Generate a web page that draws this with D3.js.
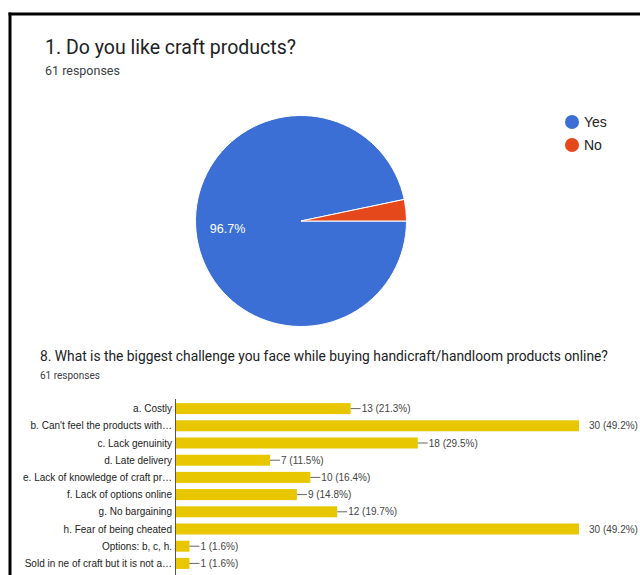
<!DOCTYPE html>
<html><head><meta charset="utf-8">
<script src="https://cdn.jsdelivr.net/npm/d3@7"></script>
<style>html,body{margin:0;padding:0;background:#fff;}svg{display:block;}</style>
</head><body>
<svg id="c" width="640" height="575"></svg>
<script>
const pieLabels = ["Yes", "No"];
const pieValues = [59, 2];
const pieColors = ["#3b6fd6", "#e4481b"];

const barCategories = ["a. Costly", "b. Can't feel the products with\u2026", "c. Lack genuinity", "d. Late delivery",
  "e. Lack of knowledge of craft pr\u2026", "f. Lack of options online", "g. No bargaining", "h. Fear of being cheated",
  "Options: b, c, h.", "Sold in ne of craft but it is not a\u2026"];
const barValues = [13, 30, 18, 7, 10, 9, 12, 30, 1, 1];
const barPercents = ["21.3%", "49.2%", "29.5%", "11.5%", "16.4%", "14.8%", "19.7%", "49.2%", "1.6%", "1.6%"];

const svg = d3.select("#c");

// frame
svg.append("rect").attr("x", 0).attr("y", 0).attr("width", 640).attr("height", 575).attr("fill", "#fff");
svg.append("line").attr("x1", 10).attr("x2", 10).attr("y1", 12.5).attr("y2", 575).attr("stroke", "#000").attr("stroke-width", 3);
svg.append("line").attr("x1", 8.5).attr("x2", 640).attr("y1", 14).attr("y2", 14).attr("stroke", "#000").attr("stroke-width", 3);

// Titles
svg.append("text").attr("x", 45).attr("y", 54).attr("font-family", "Roboto").attr("font-size", 19.5)
  .attr("fill", "#202124").text("1. Do you like craft products?");
svg.append("text").attr("x", 45).attr("y", 75).attr("font-family", "Roboto").attr("font-size", 12.5)
  .attr("fill", "#3c4043").text("61 responses");

// Pie
const cx = 301, cy = 221, r = 105.5;
const pie = d3.pie().sort(null).startAngle(Math.PI / 2).endAngle(Math.PI / 2 + 2 * Math.PI);
const arcs = pie(pieValues);
const arc = d3.arc().innerRadius(0).outerRadius(r);
const pg = svg.append("g").attr("transform", `translate(${cx},${cy})`);
pg.selectAll("path").data(arcs).join("path")
  .attr("d", arc).attr("fill", (d, i) => pieColors[i]).attr("stroke", "#fff").attr("stroke-width", 1);
const total = d3.sum(pieValues);
const labelArc = d3.arc().innerRadius(r * 0.7).outerRadius(r * 0.7);
pg.selectAll("text.pl").data(arcs.filter(d => d.value / total > 0.05)).join("text")
  .attr("class", "pl")
  .attr("transform", d => `translate(${labelArc.centroid(d)})`)
  .attr("text-anchor", "middle").attr("dy", "0.35em")
  .attr("font-family", "Liberation Sans, Arial").attr("font-size", 12.5).attr("fill", "#fff")
  .text(d => (d.value / total * 100).toFixed(1) + "%");

// Legend
const lg = svg.append("g");
pieLabels.forEach((l, i) => {
  const y = 122 + i * 23;
  lg.append("circle").attr("cx", 572).attr("cy", y).attr("r", 7).attr("fill", pieColors[i]);
  lg.append("text").attr("x", 584).attr("y", y).attr("dy", "0.36em").attr("font-family", "Liberation Sans, Arial")
    .attr("font-size", 14).attr("fill", "#222").text(l);
});

// Bar chart titles
svg.append("text").attr("x", 40).attr("y", 361).attr("font-family", "Roboto").attr("font-size", 13.8)
  .attr("fill", "#202124").text("8. What is the biggest challenge you face while buying handicraft/handloom products online?");
svg.append("text").attr("x", 40).attr("y", 379).attr("font-family", "Roboto").attr("font-size", 10)
  .attr("fill", "#3c4043").text("61 responses");

// Bars
const x = d3.scaleLinear().domain([0, 30]).range([176, 579]);
const y = d3.scaleBand().domain(barCategories).range([400, 572]).paddingInner(0.36).paddingOuter(0.18);
const bg = svg.append("g");
bg.selectAll("rect").data(barValues).join("rect")
  .attr("x", x(0)).attr("y", (d, i) => y(barCategories[i]))
  .attr("width", d => x(d) - x(0)).attr("height", y.bandwidth()).attr("fill", "#e8c700");

bg.append("line").attr("x1", 175.5).attr("x2", 175.5).attr("y1", 399).attr("y2", 575).attr("stroke", "#555").attr("stroke-width", 1);

bg.selectAll("text.cat").data(barCategories).join("text").attr("class", "cat")
  .attr("x", 172).attr("y", d => y(d) + y.bandwidth() / 2).attr("dy", "0.35em").attr("text-anchor", "end")
  .attr("font-family", "Liberation Sans, Arial").attr("font-size", 10).attr("fill", "#222").text(d => d);

const maxV = d3.max(barValues);
barValues.forEach((v, i) => {
  const yc = y(barCategories[i]) + y.bandwidth() / 2;
  const xe = x(v);
  if (v < maxV) {
    bg.append("line").attr("x1", xe).attr("x2", xe + 10).attr("y1", yc).attr("y2", yc).attr("stroke", "#666").attr("stroke-width", 1);
    bg.append("text").attr("x", xe + 11).attr("y", yc).attr("dy", "0.35em")
      .attr("font-family", "Liberation Sans, Arial").attr("font-size", 10).attr("fill", "#444")
      .text(`${v} (${barPercents[i]})`);
  } else {
    bg.append("text").attr("x", xe + 10).attr("y", yc).attr("dy", "0.35em")
      .attr("font-family", "Liberation Sans, Arial").attr("font-size", 10).attr("fill", "#444")
      .text(`${v} (${barPercents[i]})`);
  }
});
</script>
</body></html>
